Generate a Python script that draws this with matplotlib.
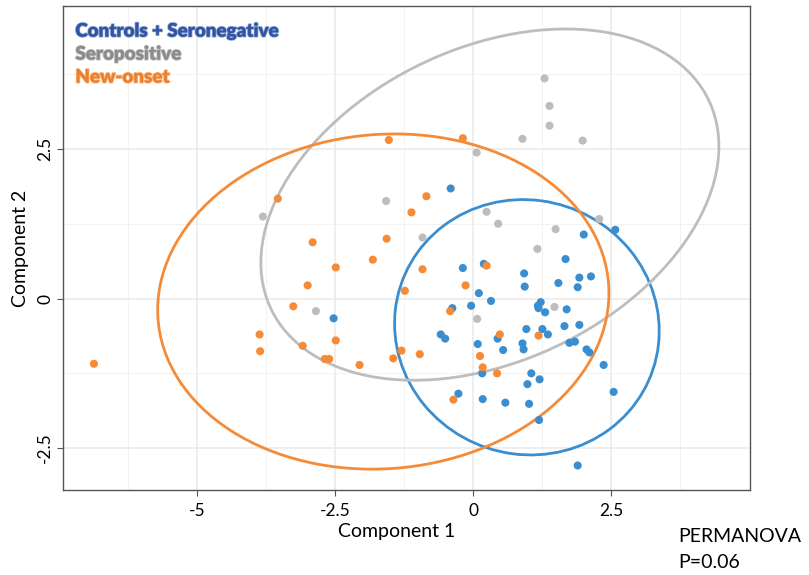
import matplotlib
matplotlib.use("Agg")
import matplotlib.pyplot as plt
from matplotlib.patches import Ellipse
import matplotlib.patheffects as pe

# ---- data (Component 1, Component 2) ----
neg_x = [-0.41, 2.00, 2.57, 1.67, 1.92, 2.13, 1.89, 1.54, 0.92, 0.93,
         -0.19, 0.19, 0.10, 0.32, -0.04, -0.38, 1.17, 1.22, 1.18, 1.30,
         1.69, 1.65, 1.92, 0.96, 1.25, 1.35, -0.59, -0.51, 0.08, 0.44,
         0.54, 0.89, 0.91, 1.74, 1.84, 2.05, 2.10, 2.36, 2.54, 1.05,
         0.98, 1.20, -0.27, 0.17, 0.58, 1.01, 1.19, 1.89, 0.16, -2.53]
neg_y = [1.84, 1.07, 1.15, 0.66, 0.35, 0.37, 0.19, 0.26, 0.42, 0.20,
         0.51, 0.58, 0.09, -0.04, -0.12, -0.16, -0.12, -0.06, -0.16, -0.23,
         -0.18, -0.46, -0.44, -0.51, -0.51, -0.60, -0.60, -0.67, -0.76, -0.67,
         -0.86, -0.75, -0.85, -0.74, -0.72, -0.85, -0.90, -1.11, -1.56, -1.25,
         -1.43, -1.35, -1.59, -1.68, -1.74, -1.76, -2.03, -2.79, -1.25, -0.33]

pos_x = [1.29, 1.38, 1.38, 0.89, 1.98, 0.06, -1.58, -3.81, 0.24, 0.45,
         -0.92, 1.49, 2.28, 1.16, 1.47, 0.07, -2.85]
pos_y = [3.68, 3.22, 2.89, 2.67, 2.64, 2.44, 1.63, 1.37, 1.45, 1.25,
         1.02, 1.16, 1.33, 0.83, -0.14, -0.34, -0.21]

new_x = [-1.53, -0.19, -3.54, -0.85, -1.12, -2.91, -1.57, -1.82, -2.49, -0.92,
         0.24, -3.00, -0.14, -1.24, -3.26, -0.42, -3.87, -3.86, -3.09, -2.49,
         0.48, 1.18, -2.69, -2.61, -2.06, -1.45, -1.30, -0.97, 0.12, 0.17,
         0.43, -0.36, -6.87]
new_y = [2.65, 2.68, 1.67, 1.71, 1.44, 0.94, 1.00, 0.65, 0.52, 0.49,
         0.55, 0.22, 0.22, 0.13, -0.13, -0.21, -0.60, -0.88, -0.79, -0.70,
         -0.60, -0.62, -1.01, -1.01, -1.11, -1.00, -0.87, -0.93, -0.96, -1.15,
         -1.25, -1.69, -1.09]

# 95% ellipses: centre x, centre y, full width, full height, angle (deg)
ell_neg = (0.97, -0.48, 4.80, 4.26, -7.0)
ell_pos = (0.30, 1.57, 8.67, 5.30, 21.6)
ell_new = (-1.63, -0.05, 8.18, 5.59, 3.7)

groups = ["Controls + Seronegative", "Seropositive", "New-onset"]
pt_colors = ["#3A8ED0", "#BDBDBD", "#F58A37"]
text_colors = ["#2F55A4", "#8C8C8C", "#F07F2C"]

x_ticks = [-5, -2.5, 0, 2.5]
x_tick_labels = ["-5", "-2.5", "0", "2.5"]
y_ticks = [-2.5, 0, 2.5]
y_tick_labels = ["-2.5", "0", "2.5"]

plt.rcParams['font.family'] = ['Lato', 'DejaVu Sans']

fig = plt.figure(figsize=(8.09, 5.75), dpi=100)
ax = fig.add_axes([63/809, 1-490/575, 687/809, 484/575])

ax.set_xlim(-7.43, 5.01)
ax.set_ylim(-3.20, 4.89)

# grid
for v in [-6.25, -3.75, -1.25, 1.25, 3.75]:
    ax.axvline(v, color="#F2F2F2", lw=0.7, zorder=0)
for v in [-1.25, 1.25, 3.75]:
    ax.axhline(v, color="#F2F2F2", lw=0.7, zorder=0)
for v in x_ticks:
    ax.axvline(v, color="#EBEBEB", lw=1.2, zorder=0)
for v in y_ticks:
    ax.axhline(v, color="#EBEBEB", lw=1.2, zorder=0)

series = [(neg_x, neg_y, ell_neg), (pos_x, pos_y, ell_pos), (new_x, new_y, ell_new)]
for (xs, ys, e), c in zip(series, pt_colors):
    ax.scatter(xs, ys, s=34, color=c, edgecolors="none", zorder=3)
    ax.add_patch(Ellipse((e[0], e[1]), e[2], e[3], angle=e[4], fill=False,
                         edgecolor=c, lw=2.0, zorder=2))

ax.set_xticks(x_ticks)
ax.set_xticklabels(x_tick_labels, fontsize=12.5)
ax.set_yticks(y_ticks)
ax.set_yticklabels(y_tick_labels, fontsize=12.5, rotation=90, va="center")
ax.tick_params(axis="both", length=4, color="#555555", width=0.8)
ax.tick_params(axis="x", pad=5)
ax.tick_params(axis="y", pad=3)

for s in ax.spines.values():
    s.set_color("#555555")
    s.set_linewidth(1.0)

ax.set_xlabel("Component 1", fontsize=14)
ax.xaxis.set_label_coords(0.486, -0.068)
ax.set_ylabel("Component 2", fontsize=14)
ax.yaxis.set_label_coords(-0.050, 0.5)

# legend as coloured text
for i, (g, tc) in enumerate(zip(groups, text_colors)):
    t = ax.text(0.018, 0.948 - i * 0.0475, g, transform=ax.transAxes, color=tc,
                fontsize=13.5, fontweight="heavy", va="center", ha="left",
                family=['Liberation Sans Narrow', 'Lato', 'DejaVu Sans'])
    t.set_path_effects([pe.withStroke(linewidth=1.2, foreground=tc, alpha=0.5)])

fig.text(678/809, 1-536/575, "PERMANOVA", fontsize=14, va="center", ha="left")
fig.text(678/809, 1-563/575, "P=0.06", fontsize=14, va="center", ha="left")

fig.savefig("out.png", dpi=100)
